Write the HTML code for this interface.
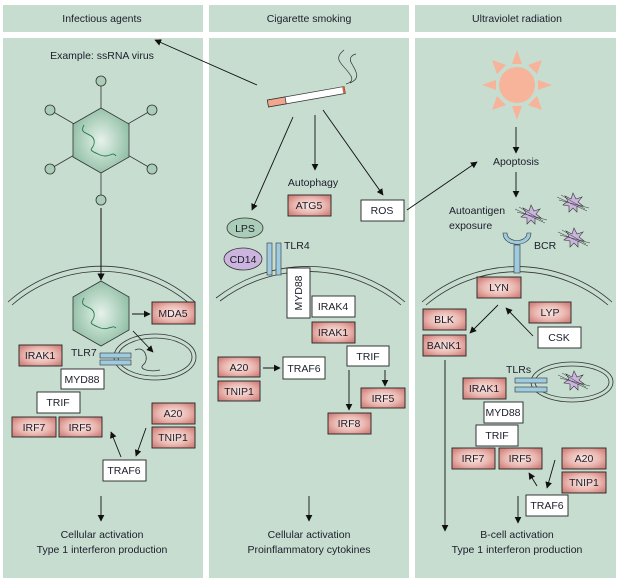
<!DOCTYPE html><html><head><meta charset="utf-8"><style>
html,body{margin:0;padding:0;background:#fff}
text{font-family:"Liberation Sans",sans-serif;font-size:10.5px;fill:#1d1d2b}
</style></head><body>
<svg width="621" height="582" viewBox="0 0 621 582" xmlns="http://www.w3.org/2000/svg">
<defs>
<radialGradient id="pk" cx="50%" cy="50%" r="60%"><stop offset="0" stop-color="#fbeae6"/><stop offset="0.6" stop-color="#eab7b0"/><stop offset="1" stop-color="#d3847e"/></radialGradient>
<radialGradient id="hx" cx="50%" cy="50%" r="55%"><stop offset="0" stop-color="#e6f2ea"/><stop offset="1" stop-color="#8fbea4"/></radialGradient>
<marker id="a" viewBox="0 0 10 10" refX="9" refY="5" markerWidth="7.5" markerHeight="7.5" orient="auto"><path d="M0,0 L10,5 L0,10z" fill="#111"/></marker>
<g id="star"><path d="M0,-10 L3,-4 L9,-6 L5,-1 L10,3 L4,3 L4,9 L0,5 L-4,9 L-4,3 L-10,2 L-5,-2 L-8,-7 L-2,-4z" fill="#cbb5df" stroke="#333" stroke-width="0.6"/><path d="M-16,-6 L14,8 M-14,-3 L16,5 M-12,-8 L12,6" stroke="#333" stroke-width="0.5" fill="none"/></g>
</defs>
<g fill="#c6ddd0">
<rect x="3" y="5" width="200" height="27"/><rect x="209" y="5" width="200" height="27"/><rect x="415" y="5" width="201" height="27"/>
<rect x="3" y="38" width="200" height="540"/><rect x="209" y="38" width="200" height="540"/><rect x="415" y="38" width="201" height="540"/>
</g>
<g text-anchor="middle">
<text x="102" y="22">Infectious agents</text><text x="309" y="22">Cigarette smoking</text><text x="517" y="22">Ultraviolet radiation</text>
<text x="102" y="59">Example: ssRNA virus</text>
<text x="102" y="538">Cellular activation</text><text x="102" y="553">Type 1 interferon production</text>
<text x="309" y="538">Cellular activation</text><text x="309" y="553">Proinflammatory cytokines</text>
<text x="517" y="538">B-cell activation</text><text x="517" y="553">Type 1 interferon production</text>
</g>
<g fill="none" stroke="#333" stroke-width="0.8">
<clipPath id="c1"><rect x="3" y="38" width="200" height="540"/></clipPath>
<clipPath id="c2"><rect x="209" y="38" width="200" height="540"/></clipPath>
<clipPath id="c3"><rect x="415" y="38" width="201" height="540"/></clipPath>
<g clip-path="url(#c1)"><path d="M8,302 A140,140 0 0 1 195,302"/><path d="M12,305 A136,136 0 0 1 191,305"/></g>
<g clip-path="url(#c2)"><path d="M216,298 A150,150 0 0 1 405,302"/><path d="M220,301 A146,146 0 0 1 401,305"/></g>
<g clip-path="url(#c3)"><path d="M422,302 A145,145 0 0 1 612,302"/><path d="M426,305 A141,141 0 0 1 608,305"/></g>
</g>
<g stroke="#333" stroke-width="0.8">
<line x1="101" y1="81" x2="101" y2="200"/><line x1="50" y1="110" x2="152" y2="169"/><line x1="152" y1="110" x2="50" y2="169"/>
<polygon points="101,108 129,124 129,157 101,173 73,157 73,124" fill="url(#hx)"/>
<g fill="#a9cdb7"><circle cx="101" cy="81" r="5"/><circle cx="50" cy="110" r="5"/><circle cx="152" cy="110" r="5"/><circle cx="50" cy="169" r="5"/><circle cx="152" cy="169" r="5"/><circle cx="101" cy="200" r="5"/></g>
</g>
<path d="M84,125 C78,135 92,132 94,140 C96,150 84,148 98,154 C110,160 112,150 116,156" fill="none" stroke="#1f7a4a" stroke-width="0.9"/>
<line x1="101" y1="208" x2="101" y2="280" stroke="#111" marker-end="url(#a)"/>
<polygon points="101,281 129,297 129,330 101,346 73,330 73,297" fill="url(#hx)" stroke="#333" stroke-width="0.8"/>
<path d="M84,298 C78,308 92,305 94,313 C96,323 84,321 98,327 C108,332 112,324 116,328" fill="none" stroke="#1f7a4a" stroke-width="0.9"/>
<g fill="none" stroke="#333" stroke-width="0.8"><ellipse cx="155" cy="357" rx="41" ry="23"/><ellipse cx="155" cy="357" rx="37" ry="19"/></g>
<path d="M135,350 C145,345 150,360 143,365 C138,370 152,372 160,370" fill="none" stroke="#333" stroke-width="0.8"/>
<g fill="#9fcbe0" stroke="#333" stroke-width="0.6"><rect x="100" y="353" width="31" height="5"/><rect x="100" y="360" width="31" height="5"/></g>
<text x="71" y="356">TLR7</text>
<g stroke="#222" stroke-width="0.9">
<g fill="url(#pk)">
<rect x="152" y="302" width="43" height="22"/><rect x="19" y="345" width="43" height="21"/>
<rect x="12" y="417" width="44" height="20"/><rect x="59" y="417" width="43" height="20"/>
<rect x="152" y="403" width="43" height="21"/><rect x="152" y="427" width="43" height="21"/>
<rect x="288" y="195" width="43" height="21"/><rect x="312" y="322" width="43" height="21"/>
<rect x="218" y="357" width="42" height="20"/><rect x="218" y="381" width="42" height="20"/>
<rect x="328" y="413" width="43" height="21"/><rect x="361" y="388" width="44" height="20"/>
<rect x="477" y="277" width="44" height="21"/><rect x="423" y="309" width="43" height="21"/><rect x="423" y="335" width="43" height="21"/>
<rect x="529" y="302" width="42" height="21"/><rect x="463" y="378" width="43" height="21"/>
<rect x="452" y="448" width="43" height="21"/><rect x="499" y="448" width="43" height="21"/>
<rect x="562" y="448" width="44" height="21"/><rect x="562" y="472" width="44" height="21"/>
</g>
<g fill="#fff">
<rect x="61" y="369" width="43" height="20"/><rect x="37" y="392" width="43" height="21"/><rect x="103" y="460" width="43" height="21"/>
<rect x="361" y="200" width="43" height="21"/><rect x="287" y="268" width="23" height="50"/>
<rect x="312" y="296" width="43" height="21"/><rect x="347" y="346" width="42" height="20"/><rect x="283" y="357" width="42" height="22"/>
<rect x="538" y="327" width="43" height="21"/><rect x="484" y="402" width="39" height="21"/><rect x="476" y="425" width="42" height="21"/><rect x="526" y="495" width="42" height="21"/>
</g></g>
<g text-anchor="middle">
<text x="173" y="317">MDA5</text><text x="40" y="359">IRAK1</text><text x="82" y="383">MYD88</text><text x="58" y="406">TRIF</text>
<text x="34" y="431">IRF7</text><text x="80" y="431">IRF5</text><text x="173" y="417">A20</text><text x="173" y="441">TNIP1</text><text x="124" y="474">TRAF6</text>
<text x="309" y="209">ATG5</text><text x="382" y="214">ROS</text><text x="313" y="186">Autophagy</text>
<text x="333" y="310">IRAK4</text><text x="333" y="336">IRAK1</text><text x="368" y="360">TRIF</text>
<text x="239" y="371">A20</text><text x="239" y="395">TNIP1</text><text x="304" y="372">TRAF6</text>
<text x="349" y="427">IRF8</text><text x="383" y="402">IRF5</text>
<text x="499" y="291">LYN</text><text x="444" y="323">BLK</text><text x="444" y="349">BANK1</text>
<text x="550" y="316">LYP</text><text x="559" y="341">CSK</text><text x="484" y="392">IRAK1</text>
<text x="503" y="416">MYD88</text><text x="497" y="439">TRIF</text><text x="473" y="462">IRF7</text><text x="520" y="462">IRF5</text>
<text x="584" y="462">A20</text><text x="584" y="486">TNIP1</text><text x="547" y="509">TRAF6</text>
<text x="516" y="165">Apoptosis</text>
</g>
<text transform="translate(302,293) rotate(-90)" text-anchor="middle">MYD88</text>
<text x="284" y="249">TLR4</text>
<text x="449" y="214">Autoantigen</text><text x="449" y="229">exposure</text>
<text x="534" y="249">BCR</text><text x="506" y="373">TLRs</text>
<g stroke="#111" stroke-width="0.9" marker-end="url(#a)">
<line x1="132" y1="314" x2="150" y2="314"/><line x1="133" y1="331" x2="153" y2="352"/>
<line x1="121" y1="457" x2="111" y2="432"/><line x1="146" y1="428" x2="136" y2="456"/>
<line x1="101" y1="496" x2="101" y2="521"/>
<line x1="257" y1="85" x2="155" y2="40"/><line x1="293" y1="117" x2="252" y2="210"/>
<line x1="315" y1="115" x2="315" y2="170"/><line x1="323" y1="110" x2="383" y2="195"/>
<line x1="407" y1="210" x2="477" y2="162"/>
<line x1="263" y1="368" x2="280" y2="368"/><line x1="349" y1="370" x2="349" y2="410"/><line x1="385" y1="370" x2="385" y2="386"/>
<line x1="309" y1="496" x2="309" y2="521"/>
<line x1="516" y1="127" x2="516" y2="153"/><line x1="516" y1="172" x2="516" y2="197"/>
<line x1="498" y1="305" x2="470" y2="333"/><line x1="533" y1="336" x2="506" y2="308"/>
<line x1="445" y1="360" x2="445" y2="531"/>
<line x1="537" y1="486" x2="529" y2="473"/><line x1="555" y1="460" x2="547" y2="488"/>
<line x1="518" y1="496" x2="518" y2="523"/>
</g>
<g transform="translate(268,104) rotate(-10)">
<rect x="0" y="-4" width="78" height="7" fill="#fff" stroke="#333" stroke-width="0.7"/>
<rect x="0" y="-4" width="18" height="7" fill="#f2a68e" stroke="#333" stroke-width="0.7"/>
<rect x="76" y="-4" width="2" height="7" fill="#d95f3e"/>
</g>
<path d="M346,84 C360,80 345,70 340,62 C336,56 342,52 344,50 M350,83 C362,78 355,70 352,64 C348,58 352,55 356,54" fill="none" stroke="#333" stroke-width="0.7"/>
<ellipse cx="245" cy="228" rx="18" ry="10" fill="#a9cdb7" stroke="#333" stroke-width="0.8"/><text x="245" y="232" text-anchor="middle">LPS</text>
<ellipse cx="243" cy="259" rx="19" ry="11" fill="#cbb5df" stroke="#333" stroke-width="0.8"/><text x="243" y="263" text-anchor="middle">CD14</text>
<g fill="#9fcbe0" stroke="#333" stroke-width="0.6"><rect x="267" y="243" width="5" height="32"/><rect x="276" y="243" width="5" height="32"/></g>
<g fill="#f7b49a">
<circle cx="517" cy="85" r="18"/>
<polygon points="517,50 512,64 522,64"/><polygon points="517,120 512,106 522,106"/>
<polygon points="482,85 496,80 496,90"/><polygon points="552,85 538,80 538,90"/>
<polygon points="492,60 497,74 506,65"/><polygon points="542,60 537,74 528,65"/>
<polygon points="492,110 497,96 506,105"/><polygon points="542,110 537,96 528,105"/>
</g>
<use href="#star" transform="translate(531,215)"/><use href="#star" transform="translate(573,203)"/><use href="#star" transform="translate(574,238)"/>
<use href="#star" transform="translate(574,381)"/>
<path d="M503,233 C503,248 531,248 531,233 L527,233 C527,243 507,243 507,233z" fill="#9fcbe0" stroke="#333" stroke-width="0.6"/>
<rect x="514" y="245" width="6" height="28" fill="#9fcbe0" stroke="#333" stroke-width="0.6"/>
<g fill="none" stroke="#333" stroke-width="0.8"><ellipse cx="572" cy="382" rx="41" ry="20"/><ellipse cx="572" cy="382" rx="37" ry="16"/></g>
<g fill="#9fcbe0" stroke="#333" stroke-width="0.6"><rect x="515" y="378" width="32" height="5"/><rect x="515" y="387" width="32" height="5"/></g>
</svg>
</body></html>
